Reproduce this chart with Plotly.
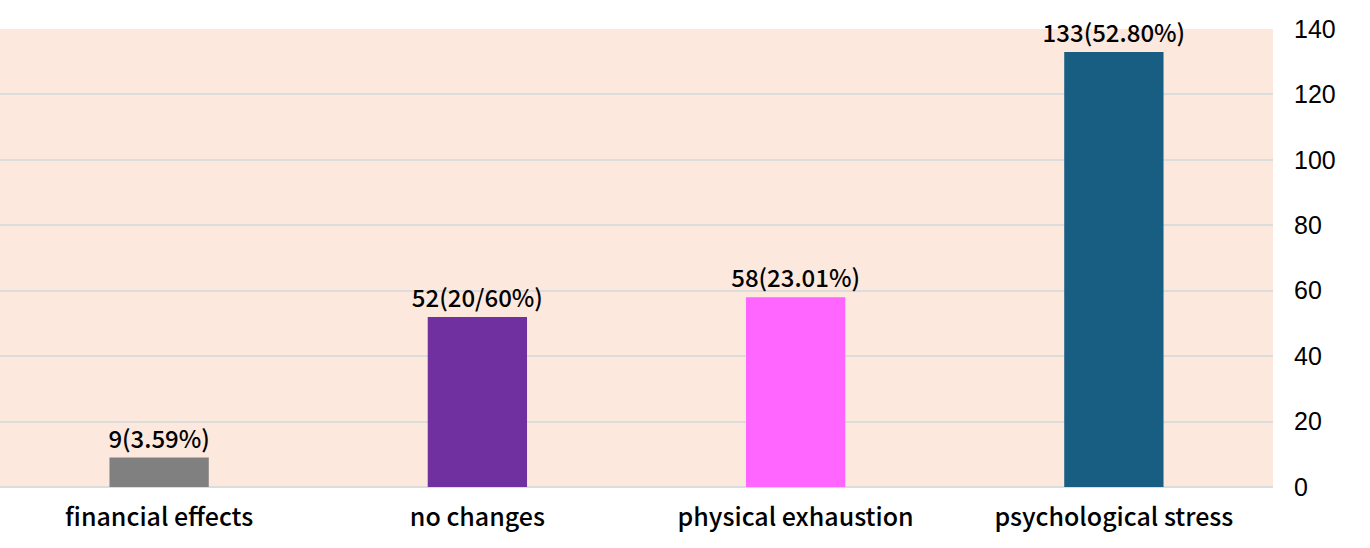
import plotly.graph_objects as go

categories = ["financial effects", "no changes", "physical exhaustion", "psychological stress"]
counts = [9, 52, 58, 133]
bar_labels = ["9(3.59%)", "52(20/60%)", "58(23.01%)", "133(52.80%)"]
bar_colors = ["#808080", "#7030A0", "#FF66FF", "#175E82"]
y_ticks = [0, 20, 40, 60, 80, 100, 120, 140]

fig = go.Figure(data=go.Bar(
    x=categories,
    y=counts,
    marker=dict(color=bar_colors, line=dict(width=0)),
    text=bar_labels,
    textposition="outside",
    constraintext="none",
    textfont=dict(family="Noto Sans CJK SC", size=24, color="#000000", weight=500),
    cliponaxis=False,
    width=0.312,
))

fig.update_layout(
    width=1370, height=548,
    margin=dict(l=0, r=97, t=29, b=61, autoexpand=False),
    paper_bgcolor="white",
    plot_bgcolor="#FCE8DC",
    showlegend=False,
    font=dict(family="Noto Sans CJK SC", color="#000000"),
    xaxis=dict(
        tickfont=dict(size=25, weight=500),
        showgrid=False, zeroline=False, showline=False,
        ticks="", ticklabelstandoff=13, automargin=False,
    ),
    yaxis=dict(
        side="right",
        range=[0, 140],
        tickvals=y_ticks,
        tickfont=dict(family="Liberation Sans", size=25),
        showgrid=True, gridcolor="#DCDCDC", gridwidth=1.5,
        zeroline=True, zerolinecolor="#DCDCDC", zerolinewidth=1.5,
        ticks="", ticklabelstandoff=20, automargin=False,
    ),
)

# drop the page's default body margin so the chart sits at the window edge
fig.write_html("out.html", config={"displayModeBar": False},
               post_script="document.body.style.margin = '0';")
